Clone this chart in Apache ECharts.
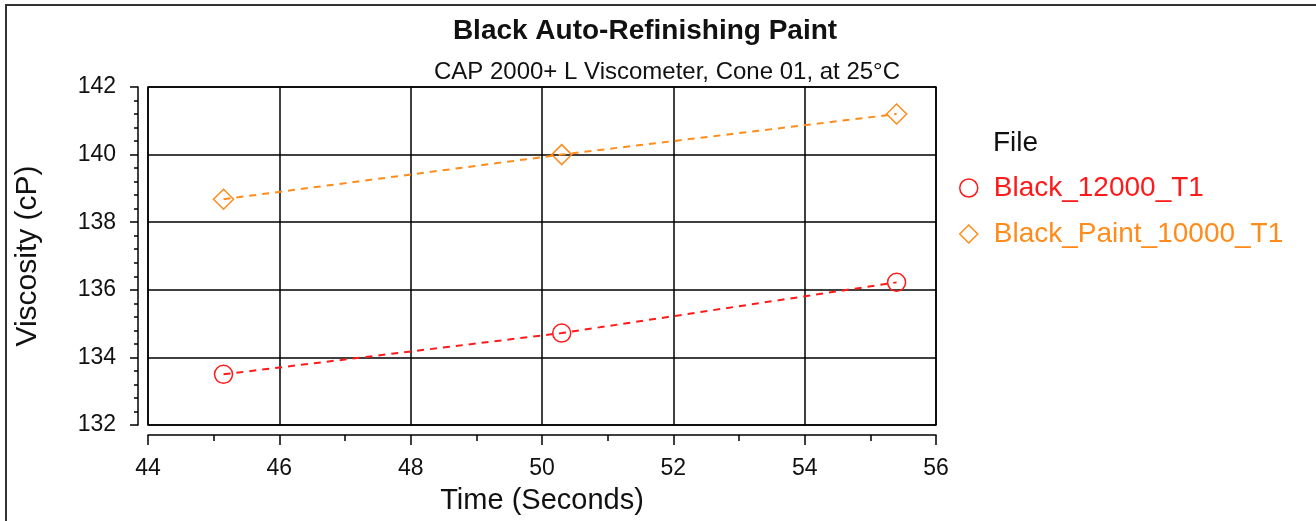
<!DOCTYPE html>
<html>
<head>
<meta charset="utf-8">
<script src="https://cdn.jsdelivr.net/npm/echarts@6/dist/echarts.min.js"></script>
<style>
    html, body { margin:0; padding:0; background:#fff; }
    #chart { position:absolute; left:0; top:0; width:1316px; height:521px; }
    #frame { position:absolute; left:5px; top:4px; width:1400px; height:600px;
             border-left:2px solid #333; border-top:2px solid #333; pointer-events:none; }
</style>
</head>
<body>
<div id="chart"></div>
<div id="frame"></div>
<script>
    // 数据
    var timeSec = [45.15, 50.3, 55.4];
    var black12000 = [133.5, 134.72, 136.22];
    var blackPaint10000 = [138.68, 140.0, 141.2];
    var seriesNames = ['Black_12000_T1', 'Black_Paint_10000_T1'];
    var RED = '#ff1a1a', ORANGE = '#ff8c1a';
    var FONT = '"Liberation Sans", Arial, sans-serif';

    function toPoints(xs, ys){
        var arr = [];
        for(var i=0; i<xs.length; i++){
            arr.push([xs[i], ys[i]]);
        }
        return arr;
    }

    var chart = echarts.init(document.getElementById('chart'));
    var option = {
        animation: false,
        textStyle: { fontFamily: FONT },
        title: [{
            text: 'Black Auto-Refinishing Paint',
            left: 640, top: 12, textAlign: 'center',
            textStyle: { fontSize: 28, fontWeight: 'bold', color: '#111', fontFamily: FONT }
        },{
            text: 'CAP 2000+ L Viscometer, Cone 01, at 25°C',
            left: 662, top: 55, textAlign: 'center',
            textStyle: { fontSize: 24, fontWeight: 'normal', color: '#111', fontFamily: FONT }
        },{
            text: 'File',
            left: 988, top: 124,
            textStyle: { fontSize: 28, fontWeight: 'normal', color: '#111', fontFamily: FONT }
        }],
        legend: {
            orient: 'vertical',
            left: 954, top: 169,
            itemWidth: 18, itemHeight: 18, itemGap: 18,
            selectedMode: false,
            textStyle: { fontSize: 28, fontFamily: FONT, padding: [0, 0, 0, 11] },
            data: [{
                name: seriesNames[0], icon: 'circle',
                itemStyle: { color: 'transparent', borderColor: RED, borderWidth: 1.5 },
                textStyle: { color: RED }
            },{
                name: seriesNames[1], icon: 'diamond',
                itemStyle: { color: 'transparent', borderColor: ORANGE, borderWidth: 1.5 },
                textStyle: { color: ORANGE }
            }]
        },
        grid: {
            left: 148, top: 87, width: 788, height: 338,
            show: true, borderColor: '#000', borderWidth: 1.5
        },
        xAxis: {
            type: 'value', min: 44, max: 56, interval: 2,
            offset: 10,
            name: 'Time (Seconds)', nameLocation: 'middle', nameGap: 51,
            nameTextStyle: { fontSize: 29, color: '#111' },
            axisLine: { lineStyle: { color: '#000', width: 1.5 } },
            axisTick: { length: 10, lineStyle: { color: '#000', width: 1.5 } },
            minorTick: { show: true, splitNumber: 2, length: 6, lineStyle: { color: '#000', width: 1.5 } },
            axisLabel: { fontSize: 23, color: '#111', margin: 22 },
            splitLine: { show: true, lineStyle: { color: '#000', width: 1.5 } }
        },
        yAxis: {
            type: 'value', min: 132, max: 142, interval: 2,
            offset: 10,
            name: 'Viscosity (cP)', nameLocation: 'middle', nameGap: 95,
            nameTextStyle: { fontSize: 30, color: '#111' },
            axisLine: { show: true, lineStyle: { color: '#000', width: 1.5 } },
            axisTick: { show: true, length: 8, lineStyle: { color: '#000', width: 1.5 } },
            minorTick: { show: true, splitNumber: 5, length: 4, lineStyle: { color: '#000', width: 1.5 } },
            axisLabel: { fontSize: 23, color: '#111', margin: 22 },
            splitLine: { show: true, lineStyle: { color: '#000', width: 1.5 } }
        },
        series: [{
            name: seriesNames[0],
            type: 'line',
            data: toPoints(timeSec, black12000),
            symbol: 'circle', symbolSize: 18,
            lineStyle: { color: RED, width: 2, type: [7, 6] },
            itemStyle: { color: 'transparent', borderColor: RED, borderWidth: 1.5 }
        },{
            name: seriesNames[1],
            type: 'line',
            data: toPoints(timeSec, blackPaint10000),
            symbol: 'diamond', symbolSize: 20,
            lineStyle: { color: ORANGE, width: 2, type: [7, 6] },
            itemStyle: { color: 'transparent', borderColor: ORANGE, borderWidth: 1.5 }
        }]
    };
    chart.setOption(option);
</script>
</body>
</html>
